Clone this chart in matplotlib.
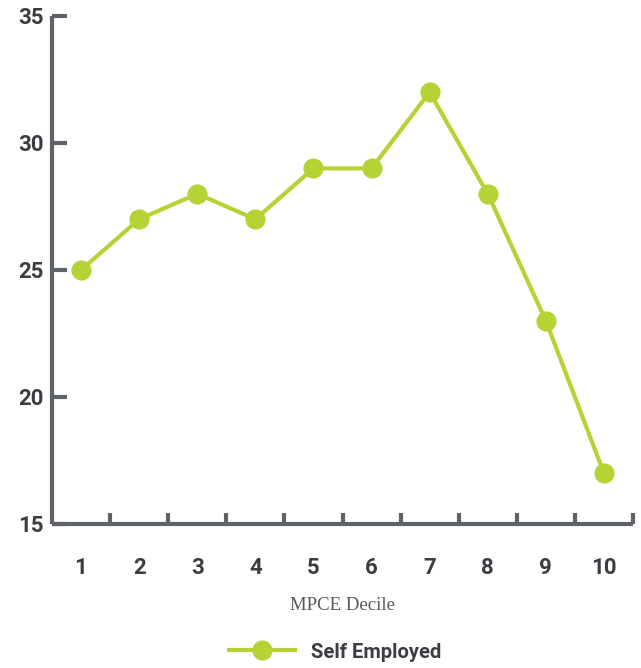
import numpy as np
import matplotlib
matplotlib.use("Agg")
import matplotlib.pyplot as plt
from matplotlib.ticker import FixedLocator, NullFormatter

deciles = ["1", "2", "3", "4", "5", "6", "7", "8", "9", "10"]
self_employed = [25, 27, 28, 27, 29, 29, 32, 28, 23, 17]
y_ticks = [15, 20, 25, 30, 35]

GREEN = "#b5d334"
AXIS = "#5f6369"
TEXT = "#3a3d42"

fig = plt.figure(figsize=(6.41, 6.68), dpi=100)
ax = fig.add_axes([52 / 641, 144 / 668, 581 / 641, 508 / 668])

x = np.arange(len(deciles))
ax.plot(x, self_employed, color=GREEN, lw=3, marker="o", ms=13.5,
        markerfacecolor=GREEN, markeredgecolor=GREEN, label="Self Employed",
        clip_on=False, zorder=3)

ax.set_xlim(-0.5, len(deciles) - 0.5)
ax.set_ylim(15, 35)

for side in ("top", "right"):
    ax.spines[side].set_visible(False)
for side in ("left", "bottom"):
    ax.spines[side].set_color(AXIS)
    ax.spines[side].set_linewidth(3)
    ax.spines[side].set_capstyle("butt")

ax.set_yticks(y_ticks)
ax.set_yticklabels([str(v) for v in y_ticks])
ax.tick_params(axis="y", direction="in", length=11, width=3, color=AXIS,
               pad=6, labelsize=16, labelcolor=TEXT)
for lab in ax.get_yticklabels():
    lab.set_fontweight("bold")
    lab.set_family("Roboto")

# boundaries between deciles carry ticks, centres carry labels
ax.xaxis.set_major_locator(FixedLocator(x + 0.5))
ax.xaxis.set_major_formatter(NullFormatter())
ax.xaxis.set_minor_locator(FixedLocator(x))
ax.set_xticklabels(deciles, minor=True)
ax.tick_params(axis="x", which="major", direction="in", length=8, width=3,
               color=AXIS)
ax.tick_params(axis="x", which="minor", length=0, pad=24, labelsize=16,
               labelcolor=TEXT)
for lab in ax.get_xticklabels(minor=True):
    lab.set_fontweight("bold")
    lab.set_family("Roboto")

ax.set_xlabel("MPCE Decile", family="Liberation Serif", fontsize=13.5,
              color="#55585c", labelpad=13)

leg = fig.legend(loc="center", bbox_to_anchor=(0.523, 16 / 668),
                 frameon=False, handlelength=3.3,
                 prop={"family": "Roboto", "weight": "bold", "size": 14.5})
for t in leg.get_texts():
    t.set_color(TEXT)

fig.savefig("out.png", dpi=100)
